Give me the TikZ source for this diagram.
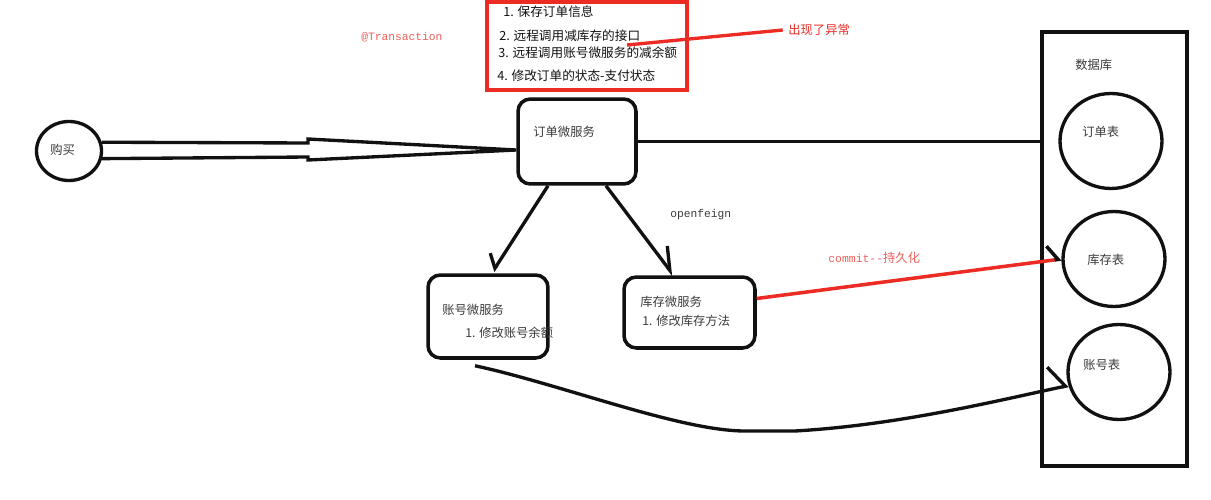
\documentclass[tikz,border=0pt]{standalone}
\usepackage{fontspec}
\setmainfont{Noto Sans CJK SC}
\setmonofont{Liberation Mono}
\usepackage{tikz}
\usetikzlibrary{positioning,arrows.meta,calc,shapes.geometric}
\definecolor{ink}{HTML}{111111}
\definecolor{txt}{HTML}{3A3A3A}
\definecolor{alarm}{HTML}{EC2B24}
\definecolor{note}{HTML}{EF5E5A}
\tikzset{
  svc/.style  ={draw=ink, line width=2pt, rounded corners=7pt, inner sep=0pt},
  tbl/.style  ={ellipse, draw=ink, line width=1.9pt, minimum width=2.04cm, minimum height=1.9cm, inner sep=0pt},
  store/.style={draw=ink, line width=1.9pt, minimum width=2.9cm, minimum height=8.68cm, inner sep=0pt},
  errbox/.style={draw=alarm, line width=1.9pt, minimum width=4cm, minimum height=1.76cm, inner sep=0pt},
  lbl/.style  ={font=\fontsize{7}{8}\selectfont, text=txt, inner sep=0pt, anchor=west},
  stepln/.style={font=\fontsize{7.2}{8}\selectfont, text=ink, inner sep=0pt, anchor=west},
  code/.style ={font=\fontsize{6.4}{8}\ttfamily, text=txt, inner sep=0pt, anchor=west},
  wire/.style ={draw=ink, line width=1.9pt},
  redwire/.style={draw=alarm, line width=1.9pt},
}

\begin{document}
\begin{tikzpicture}[x=0.02cm, y=-0.02cm]
\useasboundingbox (0,0) rectangle (1211,500);

\node[ellipse, draw=ink, line width=1.9pt, minimum width=1.3cm, minimum height=1.18cm, inner sep=0pt] (buy) at (69,151) {};
\node[lbl] (buytxt) at (50,150) {购买};

\node[svc, minimum width=2.36cm, minimum height=1.7cm] (order) at (577,141.5) {};
\node[lbl] (ordertxt) at (533,132) {订单微服务};

\node[svc, minimum width=2.4cm, minimum height=1.66cm] (acct) at (488,316.5) {};
\node[lbl] (accttxt) at (442,310) {账号微服务};
\node[lbl] (acctstep) at (465,333) {1. 修改账号余额};

\node[svc, minimum width=2.62cm, minimum height=1.42cm] (stock) at (689.5,312.5) {};
\node[lbl] (stocktxt) at (640,302) {库存微服务};
\node[lbl] (stockstep) at (642,321) {1. 修改库存方法};

\node[errbox] (steps) at (587,46) {};
\node[stepln] (s1) at (503,12) {1. 保存订单信息};
\node[stepln] (s2) at (499,36) {2. 远程调用减库存的接口};
\node[stepln] (s3) at (498,53) {3. 远程调用账号微服务的减余额};
\node[stepln] (s4) at (497,76) {4. 修改订单的状态-支付状态};

\node[code, text=note] (tx) at (361,37) {@Transaction};
\node[lbl, text=alarm] (errtxt) at (788,30) {出现了异常};
\coordinate (errpt) at (627,45);
\draw[redwire] (errpt) -- ([xshift=-3pt]errtxt.west);

\node[code] (feign) at (670,215) {openfeign};
\node[lbl, text=note] (commit) at (828,258) {{\fontsize{6.5}{8}\ttfamily commit--}持久化};

\node[store] (db) at (1114.5,249) {};
\node[lbl] (dbtxt) at (1075,65) {数据库};

\node[tbl] (ordtbl) at (1111,141) {};
\node[lbl] (ordtbltxt) at (1082,132) {订单表};
\node[tbl] (stocktbl) at (1114,259) {};
\node[lbl] (stocktbltxt) at (1087,260) {库存表};
\node[tbl] (accttbl) at (1119,372) {};
\node[lbl] (accttbltxt) at (1083,365) {账号表};

\coordinate (tip) at ($(order.west)+(0,8.5)$);
\draw[wire, line join=miter] (buy.15) -- (308,143) -- (308,139) -- (tip) -- (308,160) -- (308,157) -- (buy.-13);

\draw[wire] (order.east) -- (order.east -| db.west);

\draw[wire, -{Straight Barb[harpoon,swap,angle=100:9pt]}] ($(order.south)+(-29,0)$) -- ($(acct.north)+(5,-2)$);
\draw[wire, -{Straight Barb[harpoon,angle=62:14pt]}] ($(order.south)+(29,0)$) -- ($(stock.north)+(-16,0)$);

\draw[redwire, line width=2pt, -{Straight Barb[harpoon,angle=112:10pt,color=ink]}] ($(stock.east)+(0,-14)$) -- (stocktbl.west);

\draw[wire, -{Straight Barb[harpoon,angle=116:15pt]}] ($(acct.south)+(-13,6)$) .. controls (560,384) and (680,431) .. (745,431) -- (795,431) .. controls (900,425) and (1000,400) .. (accttbl.195);
\end{tikzpicture}
\end{document}
